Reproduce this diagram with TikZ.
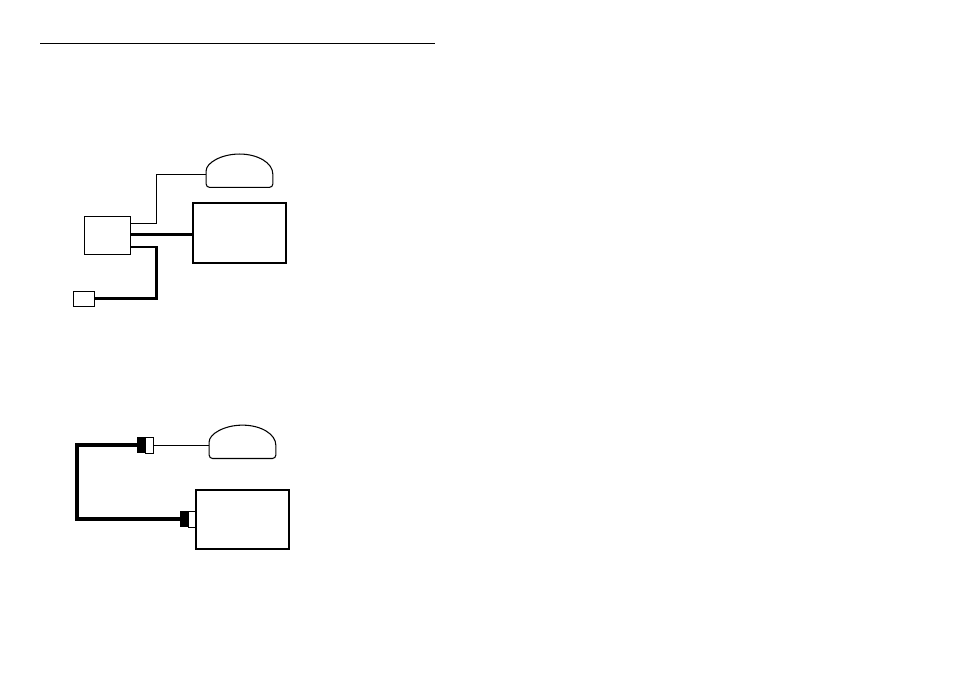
\documentclass[tikz,border=0pt]{standalone}
\usetikzlibrary{positioning}
\usetikzlibrary{calc}
\tikzset{%
  thinwire/.style = {line width=0.75pt},
  thickwire/.style = {line width=2.1pt},
  heavywire/.style = {line width=2.9pt},
  hubbox/.style = {rectangle,draw,line width=0.7pt,inner sep=0pt,outer sep=0pt,
        minimum width=34pt,minimum height=28.5pt},
  plugbox/.style = {rectangle,draw,line width=0.6pt,inner sep=0pt,outer sep=0pt,
        minimum width=15.6pt,minimum height=10.8pt},
  monitorbox/.style = {rectangle,draw,line width=1.4pt,inner sep=0pt,outer sep=0pt,
        minimum width=69.5pt,minimum height=44.6pt},
  domebox/.style = {rectangle,inner sep=0pt,outer sep=0pt,
        minimum width=50pt,minimum height=25pt},
  blackend/.style = {rectangle,fill=black,inner sep=0pt,outer sep=0pt,
        minimum width=6.6pt,minimum height=12pt},
  whiteend/.style = {rectangle,draw,line width=0.8pt,inner sep=0pt,outer sep=0pt,
        minimum width=5.8pt,minimum height=11.7pt}
}
\newcommand{\domeoutline}[1]{%
  \draw[line width=0.8pt] ([yshift=-2.5pt]#1.west)
    arc[start angle=180,end angle=0,x radius=25pt,y radius=15pt]
    [rounded corners=2.5pt] -- (#1.south east) -- (#1.south west) -- cycle;}

\begin{document}
\begin{tikzpicture}[x=0.75pt,y=-0.75pt]
        \useasboundingbox (0,0) rectangle (954,674);

        \coordinate (rule-l) at (40,43.5);
        \coordinate (rule-r) at (435,43.5);
        \draw[thinwire] (rule-l) -- (rule-r);

        % upper setup
        \node[monitorbox] (monitor-1) at (239.5,233) {};
        \node[hubbox] (hub) at (107.5,235.8) {};
        \node[domebox] (dome-1) at (239.5,170.7) {};
        \domeoutline{dome-1}
        \node[plugbox] (plug) at (84,298.8) {};
        \coordinate (bend-1) at (156.4,200);
        \coordinate (bend-3) at (156.4,270);
        \coordinate (hub-a) at ([yshift=9.6pt]hub.east);
        \coordinate (hub-b) at ([yshift=1.1pt]hub.east);
        \coordinate (hub-c) at ([yshift=-8.4pt]hub.east);

        \draw[thinwire] (hub-a) -| (bend-1) |- ([yshift=-2.5pt]dome-1.west);
        \draw[thickwire] (hub-b) -- (hub-b -| monitor-1.west);
        \draw[thickwire] (hub-c) -| (bend-3) |- (plug.east);

        % lower setup
        \node[monitorbox] (monitor-2) at (242.5,519.3) {};
        \node[domebox] (dome-2) at (242.5,441.8) {};
        \domeoutline{dome-2}
        \node[whiteend] (white-1) [left=41.7pt of dome-2,yshift=-2.6pt] {};
        \node[blackend] (black-1) [left=0pt of white-1] {};
        \node[whiteend] (white-2) [left=0pt of monitor-2] {};
        \node[blackend] (black-2) [left=0pt of white-2] {};
        \coordinate (bend-2) at (76.7,480);

        \draw[thinwire] (white-1.east) -- (white-1.east -| dome-2.west);
        \draw[heavywire] (black-1.west) -| (bend-2) |- (black-2.west);

    \end{tikzpicture}
\end{document}
